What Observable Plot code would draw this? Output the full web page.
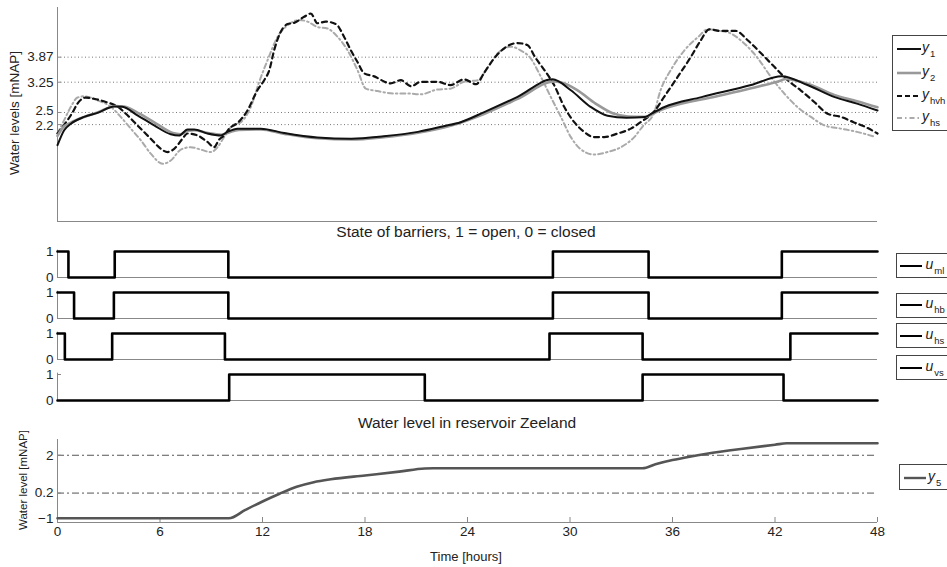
<!DOCTYPE html>
<html><head><meta charset="utf-8">
<script src="https://cdn.jsdelivr.net/npm/d3@7"></script>
<script src="https://cdn.jsdelivr.net/npm/@observablehq/plot@0.6"></script>
<style>
html,body{margin:0;padding:0;background:#fff;overflow:hidden}
#chart{position:relative;width:947px;height:567px;overflow:hidden;font-family:"Liberation Sans",Arial,Helvetica,sans-serif;color:#222;background:#fff}
.lbl{position:absolute;white-space:nowrap;line-height:1;transform:translate(-50%,-50%)}
.leg{position:absolute;border:1px solid #444;background:#fff;box-sizing:border-box;overflow:visible}
.leg .it{position:absolute;white-space:nowrap;font-size:14px;line-height:1}
.leg .it i{font-style:italic}
.leg .it sub{font-size:9.5px;vertical-align:-5px;font-style:normal;margin-left:1px}
</style>
</head><body>
<div id="chart"></div>
<script>
// ---------- DATA ----------
// Top panel: water levels [mNAP] vs time [hours]
const y1Time = [0, 0.39, 0.78, 1.56, 2.34, 3.31, 3.8, 4.68, 5.66, 6.63, 7.12, 7.61, 8.0, 8.78, 9.56, 9.95, 10.54, 11.3, 11.9, 13.27, 15.2, 17.2, 19.1, 21.1, 22.6, 23.6, 24.98, 26.9, 28.98, 30.05, 31.2, 32.2, 33.3, 34.4, 34.8, 35.5, 37.7, 40.6, 42.4, 43.9, 45.5, 46.8, 48];
const y1Vals = [1.69, 2.06, 2.22, 2.39, 2.49, 2.65, 2.64, 2.43, 2.18, 1.96, 1.93, 2.08, 2.08, 1.98, 1.93, 2.02, 2.1, 2.1, 2.1, 1.99, 1.88, 1.85, 1.91, 2.02, 2.16, 2.26, 2.51, 2.88, 3.32, 3.05, 2.64, 2.42, 2.37, 2.39, 2.48, 2.63, 2.88, 3.18, 3.4, 3.18, 2.88, 2.72, 2.55];
const y2Time = [0, 0.3, 0.78, 1.56, 2.34, 3.4, 3.9, 4.8, 5.8, 6.75, 7.2, 7.65, 8.0, 8.8, 9.6, 10.0, 10.6, 11.9, 13.3, 15.2, 17.2, 19.1, 21.1, 23.0, 25.0, 26.9, 29.1, 29.5, 30.4, 31.5, 32.5, 33.4, 34.4, 35.0, 35.7, 38.6, 40.6, 42.4, 42.6, 44.0, 45.5, 46.8, 48];
const y2Vals = [1.92, 2.12, 2.25, 2.39, 2.5, 2.66, 2.65, 2.47, 2.22, 1.99, 1.96, 2.05, 2.06, 1.99, 1.95, 2.0, 2.07, 2.08, 1.97, 1.86, 1.83, 1.89, 2.0, 2.17, 2.47, 2.83, 3.27, 3.24, 3.06, 2.72, 2.48, 2.4, 2.39, 2.5, 2.62, 2.9, 3.1, 3.3, 3.33, 3.2, 2.93, 2.78, 2.63];
const yhvhTime = [0, 0.4, 0.88, 1.17, 1.66, 2.14, 2.83, 3.5, 4.1, 4.68, 5.46, 6.05, 6.44, 6.83, 7.32, 7.6, 8.2, 8.78, 9.17, 9.46, 9.75, 10.05, 10.54, 11.12, 11.7, 12.1, 12.4, 12.68, 13.07, 13.47, 13.85, 14.44, 14.83, 15.22, 15.7, 16.3, 16.78, 17.17, 17.56, 17.95, 18.5, 19.5, 20.1, 20.7, 21.27, 22.25, 23.0, 23.8, 24.5, 25.0, 25.56, 26.15, 26.93, 27.5, 28.0, 28.5, 29.07, 29.66, 30.25, 30.83, 31.4, 32.0, 32.8, 33.56, 34.3, 34.9, 35.5, 36.3, 37.08, 37.66, 38.15, 38.8, 39.7, 40.4, 41.2, 41.96, 42.74, 43.5, 44.3, 45.08, 45.86, 46.6, 47.3, 48];
const yhvhVals = [1.98, 2.2, 2.5, 2.72, 2.87, 2.84, 2.76, 2.65, 2.43, 2.18, 1.85, 1.6, 1.52, 1.6, 1.85, 1.98, 1.93, 1.77, 1.64, 1.83, 1.93, 2.1, 2.24, 2.55, 3.05, 3.3, 3.55, 4.04, 4.5, 4.69, 4.72, 4.87, 4.95, 4.71, 4.75, 4.69, 4.37, 4.04, 3.75, 3.47, 3.4, 3.22, 3.3, 3.15, 3.26, 3.26, 3.18, 3.32, 3.2, 3.5, 3.84, 4.09, 4.22, 4.17, 3.84, 3.55, 3.18, 2.64, 2.26, 2.02, 1.89, 1.89, 1.98, 2.1, 2.31, 2.51, 2.88, 3.38, 3.88, 4.29, 4.56, 4.52, 4.52, 4.29, 3.96, 3.63, 3.3, 3.05, 2.76, 2.47, 2.39, 2.26, 2.14, 1.98];
const yhsTime = [0, 0.39, 0.78, 1.17, 1.56, 2.34, 3.12, 3.7, 4.29, 4.88, 5.46, 6.15, 6.63, 7.22, 7.8, 8.39, 8.97, 9.37, 9.75, 10.25, 10.73, 11.32, 11.8, 12.3, 12.88, 13.47, 14.15, 14.64, 15.2, 15.8, 16.4, 16.98, 17.56, 18.05, 18.73, 19.7, 20.5, 21.27, 22.25, 23.0, 23.8, 24.6, 25.2, 25.76, 26.54, 27.1, 27.7, 28.3, 28.88, 29.47, 30.05, 30.6, 31.4, 32.2, 32.98, 33.76, 34.3, 34.9, 35.3, 35.9, 36.7, 37.5, 38.06, 38.8, 39.4, 40.2, 41.0, 41.76, 42.54, 43.3, 44.1, 44.9, 45.86, 46.8, 47.9];
const yhsVals = [1.98, 2.31, 2.64, 2.87, 2.9, 2.8, 2.64, 2.39, 2.1, 1.81, 1.48, 1.23, 1.31, 1.58, 1.64, 1.58, 1.52, 1.64, 1.89, 2.18, 2.26, 2.64, 3.25, 3.8, 4.37, 4.66, 4.79, 4.75, 4.62, 4.58, 4.37, 4.04, 3.55, 3.09, 3.03, 2.97, 2.97, 2.95, 3.07, 3.09, 3.26, 3.3, 3.63, 3.96, 4.13, 4.04, 3.84, 3.38, 2.88, 2.39, 1.89, 1.6, 1.46, 1.52, 1.64, 1.89, 2.18, 2.47, 3.05, 3.55, 4.04, 4.37, 4.56, 4.52, 4.46, 4.21, 3.84, 3.38, 2.97, 2.64, 2.39, 2.18, 2.1, 2.02, 1.89];
const levelTicks = [2.2, 2.5, 3.25, 3.87];

// Barrier states (1 = open, 0 = closed): switch times and state held after each
const umlTime = [0, 0.64, 3.35, 10.0, 29.0, 34.6, 42.4, 48];
const umlState = [1, 0, 1, 0, 1, 0, 1, 1];
const uhbTime = [0, 0.97, 3.3, 10.0, 29.0, 34.6, 42.4, 48];
const uhbState = [1, 0, 1, 0, 1, 0, 1, 1];
const uhsTime = [0, 0.43, 3.2, 9.8, 28.8, 34.25, 42.9, 48];
const uhsState = [1, 0, 1, 0, 1, 0, 1, 1];
const uvsTime = [0, 10.05, 21.5, 34.25, 42.5, 48];
const uvsState = [0, 1, 0, 1, 0, 0];
const stateTicks = [0, 1];

// Reservoir Zeeland water level y5
const y5Time = [0, 10.03, 11, 12, 13, 14, 15, 16, 18, 20, 21.5, 22, 34.25, 35, 36, 37, 38, 40, 42, 42.7, 48];
const y5Vals = [-1, -1, -0.6, -0.2, 0.17, 0.5, 0.72, 0.86, 1.04, 1.22, 1.37, 1.38, 1.38, 1.57, 1.77, 1.93, 2.07, 2.3, 2.5, 2.57, 2.57];
const zeelandTicks = [-1, 0.2, 2];
const zeelandRefs = [0.2, 2];
const timeTicks = [0, 6, 12, 18, 24, 30, 36, 42, 48];

// ---------- LAYOUT ----------
const W = 947, ML = 57, MR = 70, FW = W - ML - MR;
const FONT = '"Liberation Sans", Arial, Helvetica, sans-serif';
const chart = document.getElementById("chart");
const pts = (t, v) => t.map((x, i) => ({t: x, v: v[i]}));
const fmt = d => d < 0 ? "\u2212" + Math.abs(d) : String(d);
const baseStyle = {background: "transparent", fontFamily: FONT, fontSize: "13px", color: "#222", overflow: "visible"};
function place(svg, top) {
  svg.style.position = "absolute"; svg.style.left = "0px"; svg.style.top = top + "px";
  chart.appendChild(svg);
}

// Top panel
const topPlot = Plot.plot({
  width: W, height: 232, marginLeft: ML, marginRight: MR, marginTop: 7, marginBottom: 11,
  x: {domain: [0, 48], axis: null},
  y: {domain: [-0.2, 5.1]},
  style: baseStyle,
  marks: [
    Plot.ruleY(levelTicks, {stroke: "#777", strokeDasharray: "1,2.5", strokeWidth: 1}),
    Plot.ruleX([0], {stroke: "#888"}),
    Plot.ruleY([-0.2], {stroke: "#888"}),
    Plot.tickY(levelTicks, {y: d => d, stroke: "#888", insetRight: FW - 4}),
    Plot.axisY(levelTicks.filter(d => d > 3), {tickSize: 0, tickPadding: 4, label: null, fontSize: 13.5, tickFormat: fmt}),
    Plot.axisY(levelTicks.filter(d => d === 2.5), {tickSize: 0, tickPadding: 4, label: null, fontSize: 13, dy: -2, tickFormat: fmt}),
    Plot.axisY(levelTicks.filter(d => d === 2.2), {tickSize: 0, tickPadding: 4, label: null, fontSize: 13, dy: 1.5, tickFormat: fmt}),
    Plot.line(pts(yhsTime, yhsVals), {x: "t", y: "v", stroke: "#aaa", strokeWidth: 2, strokeDasharray: "5,3,1.5,3", curve: "monotone-x"}),
    Plot.line(pts(yhvhTime, yhvhVals), {x: "t", y: "v", stroke: "#111", strokeWidth: 2.2, strokeDasharray: "5,4", curve: "monotone-x"}),
    Plot.line(pts(y2Time, y2Vals), {x: "t", y: "v", stroke: "#999", strokeWidth: 2.6, curve: "monotone-x"}),
    Plot.line(pts(y1Time, y1Vals), {x: "t", y: "v", stroke: "#111", strokeWidth: 2, curve: "monotone-x"})
  ]
});
place(topPlot, 0);

// Barrier panels
const barriers = [
  {t: umlTime, s: umlState, bottom: 277},
  {t: uhbTime, s: uhbState, bottom: 318},
  {t: uhsTime, s: uhsState, bottom: 359},
  {t: uvsTime, s: uvsState, bottom: 399.5}
];
for (const b of barriers) {
  const p = Plot.plot({
    width: W, height: 40, marginLeft: ML, marginRight: MR, marginTop: 4.7, marginBottom: 8,
    x: {domain: [0, 48], axis: null},
    y: {domain: [0, 1.05]},
    style: baseStyle,
    marks: [
      Plot.ruleY([0], {stroke: "#888"}),
      Plot.ruleX([0], {stroke: "#888"}),
      Plot.tickY(stateTicks, {y: d => d, stroke: "#888", insetRight: FW - 4}),
      Plot.axisY(stateTicks, {tickSize: 0, tickPadding: 4, label: null, fontSize: 13.5}),
      Plot.line(pts(b.t, b.s), {x: "t", y: "v", curve: "step-after", stroke: "#000", strokeWidth: 2.6})
    ]
  });
  place(p, b.bottom - 32);
}

// Bottom panel
const botPlot = Plot.plot({
  width: W, height: 122, marginLeft: ML, marginRight: MR, marginTop: 14, marginBottom: 25,
  x: {domain: [0, 48]},
  y: {domain: [-1.2, 2.75]},
  style: baseStyle,
  marks: [
    Plot.ruleY(zeelandRefs, {stroke: "#555", strokeDasharray: "7,3,2,3", strokeWidth: 1}),
    Plot.ruleY([-1.2], {stroke: "#888"}),
    Plot.ruleX([0], {stroke: "#888"}),
    Plot.tickX(timeTicks, {x: d => d, stroke: "#888", insetTop: 83 - 5}),
    Plot.tickY(zeelandTicks, {y: d => d, stroke: "#888", insetRight: FW - 4}),
    Plot.axisX(timeTicks, {tickSize: 0, tickPadding: 4, label: null, fontSize: 13.5}),
    Plot.axisY(zeelandTicks, {tickSize: 0, tickPadding: 4, label: null, fontSize: 13.5, tickFormat: fmt}),
    Plot.line(pts(y5Time, y5Vals), {x: "t", y: "v", stroke: "#555", strokeWidth: 2.6, curve: "monotone-x"})
  ]
});
place(botPlot, 425);

// ---------- TEXT ----------
function label(text, x, y, size, rotate) {
  const d = document.createElement("div");
  d.className = "lbl";
  d.textContent = text;
  d.style.left = x + "px"; d.style.top = y + "px"; d.style.fontSize = size + "px";
  if (rotate) d.style.transform = "translate(-50%,-50%) rotate(-90deg)";
  chart.appendChild(d);
}
label("State of barriers, 1 = open, 0 = closed", 466, 232, 15.5);
label("Water level in reservoir Zeeland", 467, 423, 15.5);
label("Time [hours]", 466, 556, 13);
label("Water levels [mNAP]", 15, 113, 13.5, true);
label("Water level [mNAP]", 24, 480, 11.5, true);

// ---------- LEGENDS ----------
function legend(left, top, width, height, items) {
  const box = document.createElement("div");
  box.className = "leg";
  Object.assign(box.style, {left: left + "px", top: top + "px", width: width + "px", height: height + "px"});
  for (const it of items) {
    const ns = "http://www.w3.org/2000/svg";
    const s = document.createElementNS(ns, "svg");
    s.setAttribute("width", 28); s.setAttribute("height", 8);
    Object.assign(s.style, {position: "absolute", left: (it.lx || 4) + "px", top: (it.y - 4) + "px"});
    const l = document.createElementNS(ns, "line");
    l.setAttribute("x1", 0); l.setAttribute("x2", it.len || 24); l.setAttribute("y1", 4); l.setAttribute("y2", 4);
    l.setAttribute("stroke", it.stroke); l.setAttribute("stroke-width", it.w);
    if (it.dash) l.setAttribute("stroke-dasharray", it.dash);
    s.appendChild(l); box.appendChild(s);
    const t = document.createElement("div");
    t.className = "it";
    t.innerHTML = `<i>${it.sym}</i><sub>${it.sub}</sub>`;
    Object.assign(t.style, {left: (it.tx || 29) + "px", top: (it.y - 9) + "px"});
    box.appendChild(t);
  }
  chart.appendChild(box);
}
legend(892, 35, 80, 96, [
  {y: 13, stroke: "#111", w: 2, sym: "y", sub: "1"},
  {y: 36.5, stroke: "#999", w: 2.6, sym: "y", sub: "2"},
  {y: 60, stroke: "#111", w: 2.2, dash: "5,3", sym: "y", sub: "hvh"},
  {y: 81.5, stroke: "#aaa", w: 2, dash: "5,3,1.5,3", sym: "y", sub: "hs"}
]);
const uLeg = [["ml", 253], ["hb", 292.5], ["hs", 323], ["vs", 355]];
for (const [sub, top] of uLeg) {
  legend(895.5, top, 70, 25, [{y: 11.5, stroke: "#000", w: 2, sym: "u", sub, lx: 3, len: 22, tx: 29}]);
}
legend(899, 464, 70, 26, [{y: 12.5, stroke: "#555", w: 2.4, sym: "y", sub: "5", lx: 4, len: 22, tx: 28}]);
</script>
</body></html>
